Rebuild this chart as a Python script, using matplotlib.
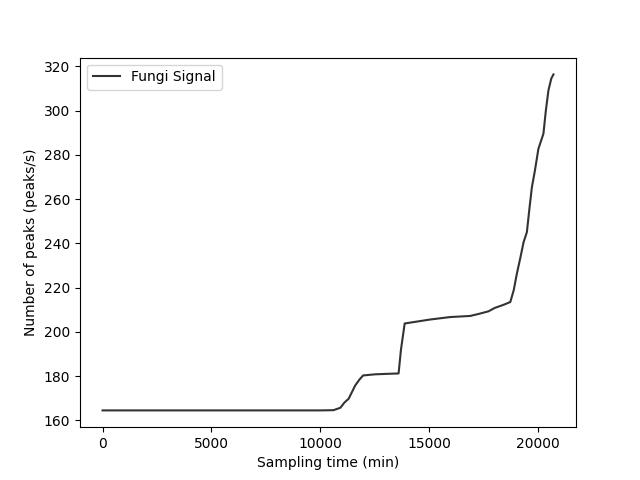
import matplotlib
matplotlib.use("Agg")
import matplotlib.pyplot as plt

time_min = [0, 2000, 4000, 6000, 8000, 10000, 10600, 10920, 11100, 11300,
            11600, 11800, 11960, 12500, 13000, 13590, 13700, 13870, 14200,
            15050, 15960, 16880, 17300, 17720, 18000, 18400, 18720, 18880,
            19020, 19180, 19330, 19480, 19600, 19710, 19850, 20010, 20240,
            20350, 20470, 20600, 20700]
peaks = [164.5, 164.5, 164.5, 164.5, 164.5, 164.5, 164.6, 165.7, 168.0, 169.8,
         175.8, 178.5, 180.3, 180.8, 181.0, 181.2, 192.0, 203.8, 204.3,
         205.6, 206.7, 207.2, 208.2, 209.3, 210.8, 212.2, 213.5, 219.0,
         226.3, 233.5, 240.6, 245.1, 256.0, 265.4, 273.0, 282.8, 289.6,
         300.0, 309.2, 314.5, 316.4]

plt.figure(figsize=(6.4, 4.8))
plt.plot(time_min, peaks, color='#333333', label='Fungi Signal')
plt.xlabel('Sampling time (min)')
plt.ylabel('Number of peaks (peaks/s)')
plt.legend(loc='upper left')
plt.savefig('out.png', dpi=100)
